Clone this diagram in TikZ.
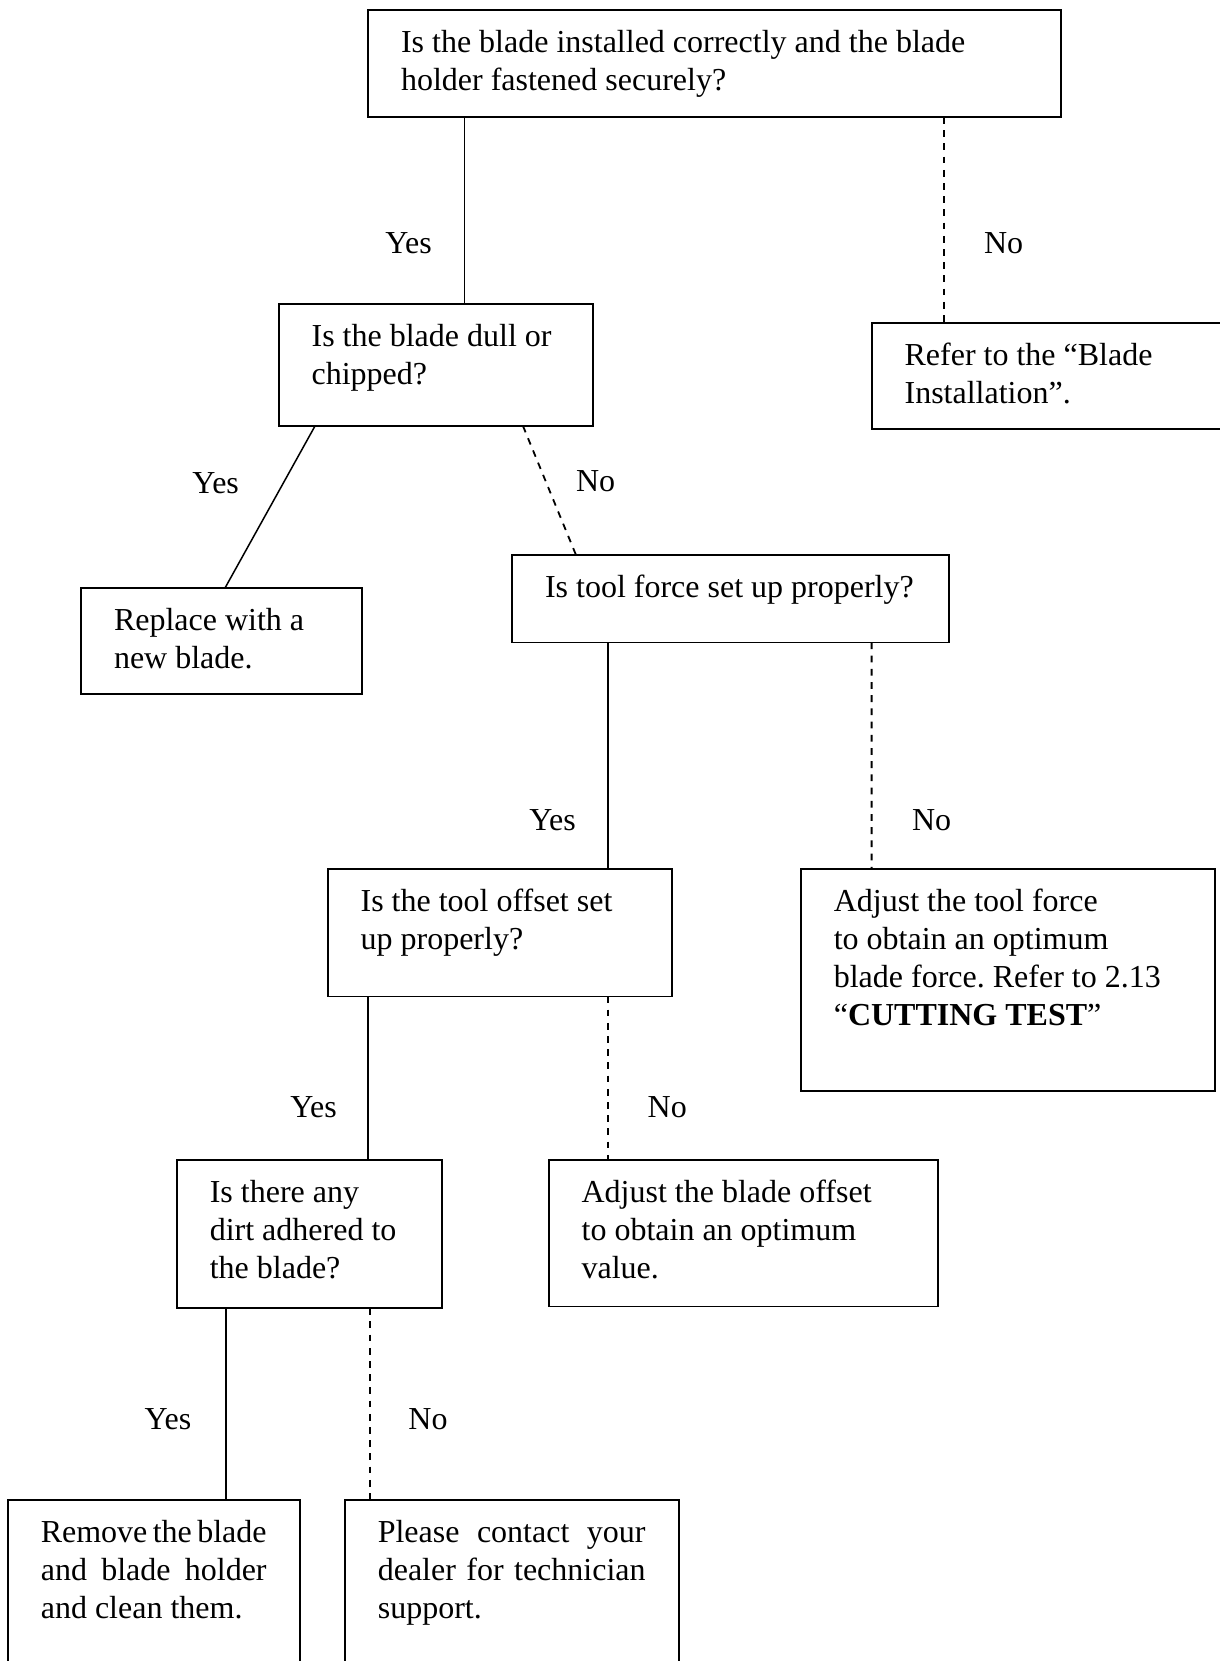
\documentclass[tikz,border=0pt]{standalone}
\usepackage{fontspec}
\setmainfont{Liberation Serif}
\usetikzlibrary{calc}
\tikzset{
  qbox/.style 2 args={
    rectangle, draw, line width=0.9pt, anchor=north west,
    align=left, inner xsep=16.5pt, inner ysep=0pt, outer sep=0pt,
    text width=#1-33pt, text height=21.3pt, text depth=#2-21.3pt,
    font=\fontsize{16}{19}\selectfont,
    execute at begin node={\spaceskip=0pt\xspaceskip=0pt\frenchspacing}
  },
  yesline/.style={line width=0.75pt},
  noline/.style={line width=0.9pt, dash pattern=on 3.4pt off 3.2pt},
  lbl/.style={font=\fontsize{16}{19}\selectfont, inner sep=0pt},
}

\begin{document}
\begin{tikzpicture}[x=1pt, y=-1pt]
  \useasboundingbox (0,0) rectangle (610,830.5);
  \clip (0,0) rectangle (610,830.5);
  \node[qbox={346.5pt}{53.5pt}] (q1) at (184,5) {Is the blade installed correctly and the blade\\holder fastened securely?};
  \node[qbox={157.2pt}{61pt}] (q2) at (139.3,152) {Is the blade dull or\\chipped?};
  \node[qbox={210pt}{53pt}] (q3) at (435.8,161.5) {Refer to the “Blade\\Installation”.};
  \node[qbox={140.5pt}{52.9pt}] (q4) at (40.5,294) {Replace with a\\new blade.};
  \node[qbox={218.3pt}{43.7pt}] (q5) at (256,277.5) {\mbox{Is tool force set up properly?}};
  \node[qbox={172pt}{63.8pt}] (q6) at (163.8,434.4) {Is the tool offset set\\up properly?};
  \node[qbox={207pt}{111.1pt}] (q7) at (400.4,434.4) {Adjust the tool force\\to obtain an optimum\\blade force. Refer to 2.13\\“\textbf{CUTTING TEST}”};
  \node[qbox={132.6pt}{74.2pt}] (q8) at (88.4,579.9) {Is there any\\dirt adhered to\\the blade?};
  \node[qbox={194.6pt}{73.3pt}] (q9) at (274.3,579.9) {Adjust the blade offset\\to obtain an optimum\\value.};
  \node[qbox={145.9pt}{100pt}] (q10) at (3.9,750) {\makebox[\linewidth][s]{Remove the blade}\\\makebox[\linewidth][s]{and blade holder}\\and clean them.};
  \node[qbox={166.9pt}{100pt}] (q11) at (172.4,750) {\makebox[\linewidth][s]{Please contact your}\\\makebox[\linewidth][s]{dealer for technician}\\support.};

  \draw[yesline] ([xshift=48.3pt]q1.south west) -- ([xshift=93pt]q2.north west) node[lbl, pos=0.674, xshift=-28pt] (y1) {Yes};
  \draw[noline] ([xshift=288pt]q1.south west) -- ([xshift=36.2pt]q3.north west) node[lbl, pos=0.612, xshift=29.8pt] (n1) {No};
  \draw[yesline] ([xshift=18.2pt]q2.south west) -- ([xshift=72pt]q4.north west) node[lbl, pos=0.353, xshift=-33.8pt] (y2) {Yes};
  \draw[noline] ([xshift=122.2pt]q2.south west) -- ([xshift=32pt]q5.north west) node[lbl, pos=0.43, xshift=24.9pt] (n2) {No};
  \draw[yesline] ([xshift=48pt]q5.south west) -- ([xshift=140.2pt]q6.north west) node[lbl, pos=0.783, xshift=-27.7pt] (y5) {Yes};
  \draw[noline] ([xshift=179.8pt]q5.south west) -- ([xshift=35.4pt]q7.north west) node[lbl, pos=0.783, xshift=30pt] (n5) {No};
  \draw[yesline] ([xshift=20.2pt]q6.south west) -- ([xshift=95.6pt]q8.north west) node[lbl, pos=0.676, xshift=-27.2pt] (y6) {Yes};
  \draw[noline] ([xshift=140.2pt]q6.south west) -- ([xshift=29.7pt]q9.north west) node[lbl, pos=0.676, xshift=29.6pt] (n6) {No};
  \draw[yesline] ([xshift=24.5pt]q8.south west) -- ([xshift=109pt]q10.north west) node[lbl, pos=0.581, xshift=-28.9pt] (y8) {Yes};
  \draw[noline] ([xshift=96.4pt]q8.south west) -- ([xshift=12.4pt]q11.north west) node[lbl, pos=0.581, xshift=29.2pt] (n8) {No};
\end{tikzpicture}
\end{document}
